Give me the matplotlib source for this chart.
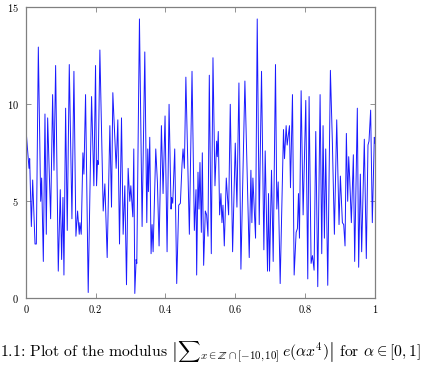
import matplotlib
matplotlib.use("Agg")
import matplotlib.pyplot as plt

plt.rcParams["font.family"] = "serif"
plt.rcParams["font.serif"] = ["cmr10"]
plt.rcParams["mathtext.fontset"] = "cm"
plt.rcParams["axes.formatter.use_mathtext"] = True

# values (turning points of the curve)
alpha = [0.000, 0.0095, 0.0114, 0.0162, 0.020, 0.0267, 0.0305, 0.0362, 0.0429, 0.0457,
         0.0505, 0.0552, 0.059, 0.0629, 0.0714, 0.0771, 0.081, 0.0857, 0.0933, 0.099,
         0.1029, 0.1067, 0.1095, 0.1143, 0.119, 0.1248, 0.1324, 0.1381, 0.1438, 0.1486,
         0.1533, 0.1552, 0.159, 0.1638, 0.1667, 0.1714, 0.179, 0.1886, 0.1952, 0.2,
         0.2029, 0.2057, 0.2076, 0.2124, 0.2219, 0.2267, 0.2333, 0.241, 0.2457, 0.2495,
         0.259, 0.2638, 0.2686, 0.2743, 0.279, 0.2838, 0.2886, 0.2933, 0.2981, 0.301,
         0.3067, 0.3095, 0.3124, 0.3162, 0.3181, 0.3257, 0.3333, 0.341, 0.3467, 0.3495,
         0.3514, 0.3552, 0.359, 0.3619, 0.3648, 0.3724, 0.3771, 0.3819, 0.3886, 0.3933,
         0.399, 0.4048, 0.4105, 0.4162, 0.418, 0.421, 0.4267, 0.4324, 0.4381, 0.4429,
         0.4476, 0.4505, 0.4543, 0.4586, 0.4686, 0.4762, 0.4829, 0.4876, 0.4895, 0.4933,
         0.4962, 0.499, 0.5029, 0.5057, 0.5095, 0.5143, 0.518, 0.5219, 0.5257, 0.5314,
         0.5362, 0.5419, 0.5467, 0.5486, 0.5514, 0.5552, 0.559, 0.5619, 0.5648, 0.5686,
         0.5743, 0.581, 0.5857, 0.5924, 0.6, 0.6048, 0.6105, 0.6162, 0.6276, 0.64,
         0.6448, 0.6476, 0.6505, 0.6581, 0.6629, 0.6686, 0.6752, 0.6819, 0.6857, 0.6924,
         0.6952, 0.6981, 0.7038, 0.7086, 0.7152, 0.719, 0.7229, 0.7286, 0.7381, 0.741,
         0.7457, 0.7486, 0.7552, 0.7581, 0.7638, 0.7686, 0.7743, 0.778, 0.781, 0.7838,
         0.7886, 0.7943, 0.8019, 0.8076, 0.8114, 0.8171, 0.821, 0.8257, 0.8305, 0.8362,
         0.8429, 0.8476, 0.8514, 0.8552, 0.859, 0.8648, 0.8724, 0.8781, 0.8838, 0.8905,
         0.8971, 0.901, 0.9067, 0.9105, 0.9143, 0.9181, 0.9219, 0.9248, 0.9276, 0.9324,
         0.9381, 0.9419, 0.9495, 0.9533, 0.9581, 0.9619, 0.9695, 0.9752, 0.98, 0.9829,
         0.9876, 0.9924, 0.9981, 1.0]
modulus = [8.9, 6.7, 7.2, 3.7, 6.1, 2.8, 2.8, 12.95, 5.0, 6.2,
           1.9, 9.5, 3.3, 9.3, 4.1, 10.5, 6.6, 12.0, 1.4, 5.6,
           2.0, 5.2, 1.2, 9.8, 3.5, 12.05, 4.1, 11.7, 3.2, 4.5,
           3.3, 3.9, 3.3, 7.5, 6.4, 10.5, 0.3, 10.4, 5.8, 12.0,
           5.8, 7.1, 6.9, 12.8, 4.5, 5.9, 2.1, 8.9, 4.7, 10.6,
           6.7, 9.2, 2.8, 9.3, 3.3, 5.8, 0.7, 6.7, 5.0, 5.8,
           4.2, 7.7, 0.25, 2.0, 1.8, 14.4, 3.7, 12.7, 3.9, 7.7,
           5.5, 8.3, 2.3, 3.8, 2.4, 7.7, 6.0, 2.7, 8.9, 5.4,
           9.4, 2.4, 10.0, 4.6, 5.2, 4.9, 7.7, 0.76, 4.8, 4.9,
           6.9, 7.7, 6.7, 11.4, 3.3, 11.7, 3.5, 5.6, 1.2, 6.5,
           4.6, 7.0, 3.4, 7.5, 1.7, 4.5, 4.3, 3.2, 11.5, 2.3,
           12.4, 5.8, 8.1, 7.3, 8.6, 4.3, 5.4, 3.9, 4.8, 2.7,
           6.2, 4.3, 10.0, 2.4, 8.0, 4.7, 11.1, 1.5, 11.2, 2.1,
           6.6, 3.9, 6.2, 3.1, 14.4, 3.8, 11.7, 2.5, 7.6, 1.4,
           5.4, 1.4, 6.6, 1.9, 12.05, 4.6, 6.0, 0.76, 8.7, 7.2,
           8.9, 7.9, 8.9, 5.7, 10.5, 1.2, 3.4, 3.6, 5.4, 3.1,
           10.7, 4.3, 10.2, 1.0, 10.4, 1.8, 2.2, 1.45, 8.6, 0.6,
           10.5, 2.3, 8.9, 3.1, 7.7, 0.67, 11.75, 8.0, 3.3, 9.2,
           3.8, 6.3, 3.9, 3.8, 2.7, 8.5, 5.0, 7.3, 6.2, 3.9,
           7.4, 1.9, 9.8, 1.6, 6.4, 2.4, 8.2, 2.05, 7.9, 8.1,
           9.7, 3.9, 8.3, 8.0]

xticks = [0, 0.2, 0.4, 0.6, 0.8, 1]
xticklabels = ["0", "0.2", "0.4", "0.6", "0.8", "1"]
yticks = [0, 5, 10, 15]

fig = plt.figure(figsize=(4.31, 3.75), dpi=100)
ax = fig.add_axes([0.0596, 0.2045, 0.8104, 0.776])

ax.plot(alpha, modulus, color=(0.1, 0.1, 1), lw=0.7)

ax.set_xlim(0, 1)
ax.set_ylim(0, 15)
ax.set_xticks(xticks)
ax.set_xticklabels(xticklabels)
ax.set_yticks(yticks)
ax.tick_params(direction="in", top=True, right=True, length=3.5, width=0.6,
               color="#808080", labelsize=7.5, pad=5)
for s in ax.spines.values():
    s.set_color("#808080")
    s.set_linewidth(0.9)

caption = (r"1.1: Plot of the modulus "
           r"$\left|{\sum}_{x\in\mathbb{Z}\cap[-10,10]}\, e(\alpha x^4)\right|$"
           r" for $\alpha\in[0,1]$")
fig.text(0.0, 0.059, caption, ha="left", va="center", fontsize=11.3)

fig.savefig("out.png", dpi=100)
